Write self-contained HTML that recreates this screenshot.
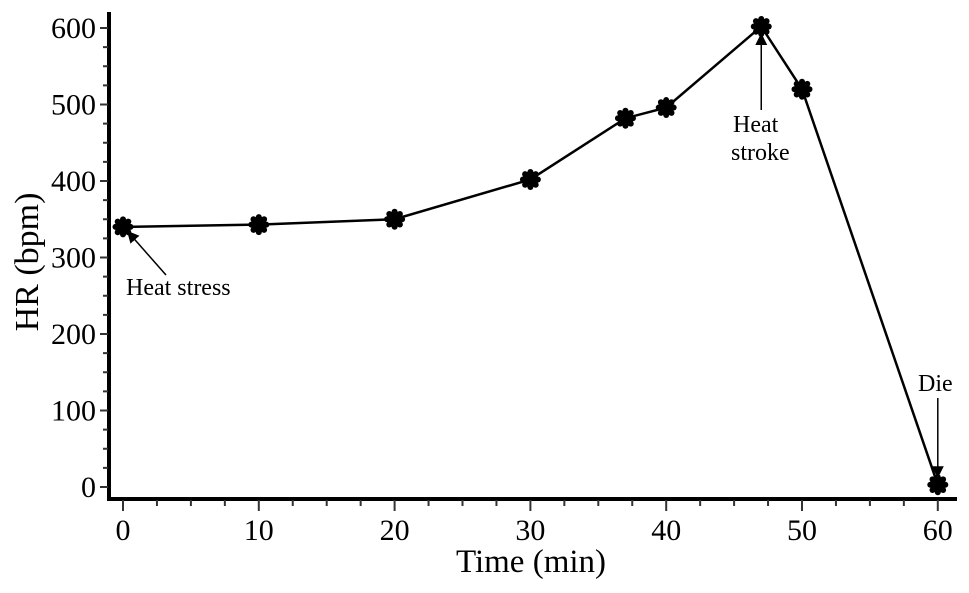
<!DOCTYPE html>
<html><head><meta charset="utf-8"><style>
body{margin:0;background:#fff;}
svg text{font-family:"Liberation Serif",serif;fill:#000;}
</style></head><body>
<svg id="chart" width="969" height="588" viewBox="0 0 969 588" xmlns="http://www.w3.org/2000/svg">
<g id="axes"></g><g id="series"></g><g id="annot"></g>
</svg>
<script>
const times=[0,10,20,30,37,40,47,50,60];
const hr=[340,343,350,402,482,496,602,520,3];
const xTicks=[0,10,20,30,40,50,60];
const yTicks=[0,100,200,300,400,500,600];
const NS="http://www.w3.org/2000/svg";
function X(t){return 123+t*13.58;}
function Y(v){return 487-v*0.765;}
function mk(tag,attrs,parent,txt){const e=document.createElementNS(NS,tag);for(const k in attrs)e.setAttribute(k,attrs[k]);if(txt!==undefined)e.textContent=txt;parent.appendChild(e);return e;}
const ax=document.getElementById('axes'),se=document.getElementById('series'),an=document.getElementById('annot');
let e=mk('line',{x1:109,y1:12,x2:109,y2:501,stroke:'#000','stroke-width':4},ax);


e=mk('line',{x1:107,y1:499,x2:957,y2:499,stroke:'#000','stroke-width':4},ax);


for(let v=0;v<=600;v+=25){const maj=v%100===0;mk('line',{x1:maj?100:103,y1:Y(v),x2:108,y2:Y(v),stroke:'#333','stroke-width':2},ax);}
yTicks.forEach(v=>{const t=mk('text',{x:96,y:Y(v)+10,'text-anchor':'end','font-size':30},ax,v);

});
for(let v=0;v<=60;v+=2.5){const maj=v%10===0;mk('line',{x1:X(v),y1:500,x2:X(v),y2:maj?511:506,stroke:'#333','stroke-width':2},ax);}
xTicks.forEach(v=>{const t=mk('text',{x:X(v),y:540,'text-anchor':'middle','font-size':30},ax,v);

});
e=mk('text',{x:531,y:572,'text-anchor':'middle','font-size':33},ax,'Time (min)');


e=mk('text',{x:0,y:0,'text-anchor':'middle','font-size':34,transform:'translate(38,262) rotate(-90)'},ax,'HR (bpm)');


const pts=times.map((t,i)=>X(t)+','+Y(hr[i])).join(' ');
e=mk('polyline',{points:pts,fill:'none',stroke:'#000','stroke-width':2.5},se);


times.forEach((t,i)=>{const g=mk('g',{transform:`translate(${X(t)},${Y(hr[i])})`},se);


mk('circle',{r:8,fill:'#000'},g);
for(let k=0;k<8;k++){const a=k*Math.PI/4;mk('circle',{cx:7.5*Math.cos(a),cy:7.5*Math.sin(a),r:3,fill:'#000'},g);}});
mk('defs',{},an).innerHTML='<marker id="ah" markerWidth="8" markerHeight="8" refX="7" refY="4" orient="auto"><path d="M0,0 L8,4 L0,8 z" fill="#000"/></marker>';
function arrow(x1,y1,x2,y2,name){const l=mk('line',{x1,y1,x2,y2,stroke:'#000','stroke-width':1.5,'marker-end':'url(#ah)'},an);

}
arrow(166,275,X(0)+5,Y(hr[0])+5,'heat-stress-arrow');
arrow(X(47),110,X(47),Y(hr[6])+8,'heat-stroke-arrow');
arrow(X(60),398,X(60),Y(hr[8])-8,'die-arrow');
function lab(x,y,s,name){const t=mk('text',{x,y,'font-size':24},an,s);

}
lab(126,295,'Heat stress','heat-stress-label');
lab(733,132,'Heat','heat-label');
lab(731,160,'stroke','stroke-label');
lab(918,391,'Die','die-label');
</script>
</body></html>
